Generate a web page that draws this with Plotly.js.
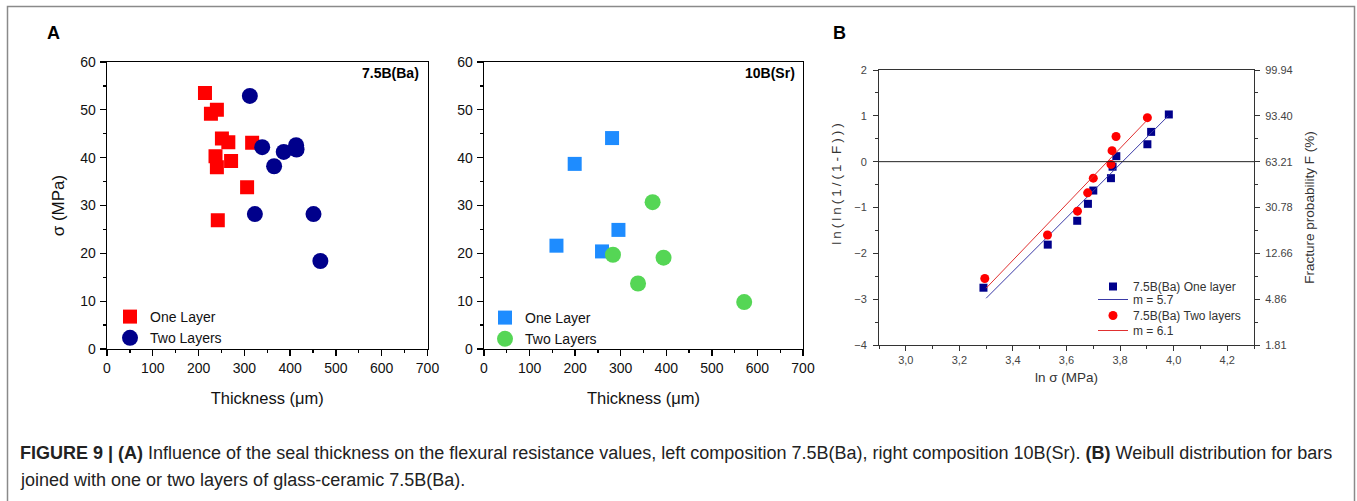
<!DOCTYPE html>
<html>
<head>
<meta charset="utf-8">
<script src="https://cdn.plot.ly/plotly-3.0.1.min.js"></script>
<style>
  html, body { margin: 0; padding: 0; background: #ffffff; }
  #chart { width: 1357px; height: 501px; }
</style>
</head>
<body>
<div id="chart"></div>
<script>
// ---------- Panel A (left): 7.5B(Ba) ----------
const baOneThickness = [214, 227, 240, 251, 265, 271, 237, 240, 317, 306, 242];
const baOneSigma     = [53.5, 49.2, 50.0, 44.0, 43.2, 39.3, 40.3, 38.0, 43.1, 33.8, 26.9];
const baTwoThickness = [312, 339, 365, 386, 413, 414, 323, 451, 466];
const baTwoSigma     = [52.9, 42.2, 38.2, 41.2, 42.6, 41.7, 28.2, 28.2, 18.4];

// ---------- Panel A (right): 10B(Sr) ----------
const srOneThickness = [159, 199, 281, 259, 295];
const srOneSigma     = [21.6, 38.7, 44.1, 20.4, 24.9];
const srTwoThickness = [283, 370, 394, 338, 571];
const srTwoSigma     = [19.7, 30.7, 19.1, 13.7, 9.8];

// ---------- Panel B: Weibull ----------
const wOneLnSigma = [3.29, 3.53, 3.64, 3.68, 3.70, 3.766, 3.772, 3.786, 3.902, 3.916, 3.982];
const wOneLnLn    = [-2.75, -1.81, -1.29, -0.92, -0.63, -0.36, -0.11, 0.12, 0.38, 0.65, 1.03];
const wTwoLnSigma = [3.295, 3.529, 3.641, 3.679, 3.70, 3.766, 3.77, 3.785, 3.902];
const wTwoLnLn    = [-2.55, -1.60, -1.08, -0.68, -0.36, -0.06, 0.24, 0.55, 0.96];
const fitOneX = [3.30, 3.98];
const fitOneY = [-2.98, 1.00];
const fitTwoX = [3.30, 3.90];
const fitTwoY = [-2.76, 0.90];

const weibullTicks = [-4, -3, -2, -1, 0, 1, 2];
const probTickText = ['1.81', '4.86', '12.66', '30.78', '63.21', '93.40', '99.94'];
const lnSigmaTicks = [3.0, 3.2, 3.4, 3.6, 3.8, 4.0, 4.2];

const W = 1357, H = 501;
const px = v => v / W;
const py = v => 1 - v / H;

const FONT = 'Liberation Sans, Arial, sans-serif';

const traces = [
  {x: baOneThickness, y: baOneSigma, xaxis: 'x', yaxis: 'y', mode: 'markers', type: 'scatter',
   name: 'One Layer', legend: 'legend',
   marker: {symbol: 'square', size: 14, color: '#ff0000'}},
  {x: baTwoThickness, y: baTwoSigma, xaxis: 'x', yaxis: 'y', mode: 'markers', type: 'scatter',
   name: 'Two Layers', legend: 'legend',
   marker: {symbol: 'circle', size: 16, color: '#00008b'}},
  {x: srOneThickness, y: srOneSigma, xaxis: 'x2', yaxis: 'y2', mode: 'markers', type: 'scatter',
   name: 'One Layer', legend: 'legend2',
   marker: {symbol: 'square', size: 14, color: '#1e8cff'}},
  {x: srTwoThickness, y: srTwoSigma, xaxis: 'x2', yaxis: 'y2', mode: 'markers', type: 'scatter',
   name: 'Two Layers', legend: 'legend2',
   marker: {symbol: 'circle', size: 16, color: '#55d655'}},
  {x: wOneLnSigma, y: wOneLnLn, xaxis: 'x3', yaxis: 'y3', mode: 'markers', type: 'scatter',
   name: '7.5B(Ba) One layer', legend: 'legend3',
   marker: {symbol: 'square', size: 8, color: '#00008b'}},
  {x: fitOneX, y: fitOneY, xaxis: 'x3', yaxis: 'y3', mode: 'lines', type: 'scatter',
   name: 'm = 5.7', legend: 'legend4',
   line: {color: '#3a3aa6', width: 1}},
  {x: wTwoLnSigma, y: wTwoLnLn, xaxis: 'x3', yaxis: 'y3', mode: 'markers', type: 'scatter',
   name: '7.5B(Ba) Two layers', legend: 'legend5',
   marker: {symbol: 'circle', size: 9, color: '#ff0000'}},
  {x: fitTwoX, y: fitTwoY, xaxis: 'x3', yaxis: 'y3', mode: 'lines', type: 'scatter',
   name: 'm = 6.1', legend: 'legend6',
   line: {color: '#e03030', width: 1}},
  // invisible trace to activate right-hand probability axis
  {x: [2.9], y: [0], xaxis: 'x3', yaxis: 'y4', mode: 'markers', type: 'scatter',
   showlegend: false, hoverinfo: 'skip', marker: {opacity: 0}}
];

const axisA = {
  showgrid: false, zeroline: false, showline: true, linecolor: '#000', linewidth: 1.3,
  mirror: true, ticks: 'outside', ticklen: 6, tickwidth: 1.3, tickcolor: '#000',
  tickfont: {family: FONT, size: 14, color: '#111'}
};

const axisB = {
  showgrid: false, zeroline: false, showline: true, linecolor: '#333', linewidth: 1,
  ticks: 'outside', ticklen: 5, tickwidth: 1, tickcolor: '#333',
  tickfont: {family: FONT, size: 11, color: '#444'}
};

const legendBase = {
  xanchor: 'left', yanchor: 'top', bgcolor: 'rgba(0,0,0,0)', borderwidth: 0, tracegroupgap: 0,
  itemsizing: 'trace'
};
const legendA = Object.assign({}, legendBase, {font: {family: FONT, size: 14, color: '#111'}});
const legendB = Object.assign({}, legendBase, {font: {family: FONT, size: 12, color: '#333'}});

const layout = {
  width: W, height: H,
  margin: {l: 0, r: 0, t: 0, b: 0},
  paper_bgcolor: '#ffffff', plot_bgcolor: 'rgba(0,0,0,0)',
  separators: ', ',
  showlegend: true,
  font: {family: FONT, color: '#111'},
  xaxis: Object.assign({}, axisA, {
    domain: [px(107), px(427.5)], range: [0, 700], dtick: 100, anchor: 'y',
    minor: {dtick: 50, ticks: 'outside', ticklen: 3, tickcolor: '#000'},
    title: {text: 'Thickness (μm)', font: {family: FONT, size: 16.5, color: '#111'}, standoff: 17}
  }),
  yaxis: Object.assign({}, axisA, {
    domain: [py(349), py(62)], range: [0, 60], dtick: 10, anchor: 'x', ticklabelstandoff: 1,
    minor: {dtick: 5, ticks: 'outside', ticklen: 3, tickcolor: '#000'},
    title: {text: 'σ (MPa)', font: {family: FONT, size: 17, color: '#111'}, standoff: 11}
  }),
  xaxis2: Object.assign({}, axisA, {
    domain: [px(484), px(803)], range: [0, 700], dtick: 100, anchor: 'y2',
    minor: {dtick: 50, ticks: 'outside', ticklen: 3, tickcolor: '#000'},
    title: {text: 'Thickness (μm)', font: {family: FONT, size: 16.5, color: '#111'}, standoff: 17}
  }),
  yaxis2: Object.assign({}, axisA, {
    domain: [py(349), py(62)], range: [0, 60], dtick: 10, anchor: 'x2', ticklabelstandoff: 1,
    minor: {dtick: 5, ticks: 'outside', ticklen: 3, tickcolor: '#000'}
  }),
  xaxis3: Object.assign({}, axisB, {
    domain: [px(879), px(1254)], range: [2.9, 4.3], tickvals: lnSigmaTicks, tickformat: '.1f',
    anchor: 'y3', mirror: true,
    minor: {dtick: 0.1, tick0: 2.9, ticks: 'outside', ticklen: 3, tickcolor: '#333'},
    title: {text: 'ln σ (MPa)', font: {family: FONT, size: 13.5, color: '#333'}, standoff: 7}
  }),
  yaxis3: Object.assign({}, axisB, {
    domain: [py(345), py(70)], range: [-4, 2], dtick: 1, anchor: 'x3', ticklabelstandoff: 4,
    minor: {dtick: 0.5, ticks: 'outside', ticklen: 3, tickcolor: '#333'},
    title: {text: 'ln(ln(1/(1-F)))', font: {family: FONT, size: 13.5, color: '#333'}, standoff: 9}
  }),
  yaxis4: Object.assign({}, axisB, {
    overlaying: 'y3', side: 'right', anchor: 'x3', range: [-4, 2], ticklabelstandoff: 3,
    tickvals: weibullTicks, ticktext: probTickText,
    minor: {dtick: 0.5, ticks: 'outside', ticklen: 3, tickcolor: '#333'},
    title: {text: 'Fracture probability F (%)', font: {family: FONT, size: 13.5, color: '#333'}, standoff: 12}
  }),
  legend:  Object.assign({}, legendA, {x: px(110), y: py(301)}),
  legend2: Object.assign({}, legendA, {x: px(485), y: py(302)}),
  legend3: Object.assign({}, legendB, {x: px(1093), y: py(272)}),
  legend4: Object.assign({}, legendB, {x: px(1093), y: py(285)}),
  legend5: Object.assign({}, legendB, {x: px(1093), y: py(301)}),
  legend6: Object.assign({}, legendB, {x: px(1093), y: py(316)}),
  shapes: [
    {type: 'rect', xref: 'paper', yref: 'paper', x0: px(7.5), x1: px(1354.5), y0: -0.05, y1: py(6.5),
     line: {color: '#8a8a8a', width: 1.5}, fillcolor: 'rgba(0,0,0,0)'},
    {type: 'line', xref: 'x3 domain', yref: 'y3', x0: 0, x1: 1, y0: 0, y1: 0,
     line: {color: '#222', width: 1}}
  ],
  annotations: [
    {text: '<b>A</b>', xref: 'paper', yref: 'paper', x: px(45), y: py(33), xanchor: 'left', yanchor: 'middle',
     showarrow: false, font: {family: FONT, size: 18, color: '#000'}},
    {text: '<b>B</b>', xref: 'paper', yref: 'paper', x: px(831), y: py(33), xanchor: 'left', yanchor: 'middle',
     showarrow: false, font: {family: FONT, size: 18, color: '#000'}},
    {text: '<b>7.5B(Ba)</b>', xref: 'paper', yref: 'paper', x: px(421), y: py(73), xanchor: 'right', yanchor: 'middle',
     showarrow: false, font: {family: FONT, size: 14, color: '#000'}},
    {text: '<b>10B(Sr)</b>', xref: 'paper', yref: 'paper', x: px(797), y: py(73), xanchor: 'right', yanchor: 'middle',
     showarrow: false, font: {family: FONT, size: 14, color: '#000'}},
    {text: '<b>FIGURE 9 | (A)</b> Influence of the seal thickness on the flexural resistance values, left composition 7.5B(Ba), right composition 10B(Sr). <b>(B)</b> Weibull distribution for bars',
     xref: 'paper', yref: 'paper', x: px(18), y: py(453), xanchor: 'left', yanchor: 'middle',
     showarrow: false, font: {family: FONT, size: 18, color: '#222'}},
    {text: 'joined with one or two layers of glass-ceramic 7.5B(Ba).',
     xref: 'paper', yref: 'paper', x: px(18), y: py(480), xanchor: 'left', yanchor: 'middle',
     showarrow: false, font: {family: FONT, size: 18, color: '#222'}}
  ]
};

Plotly.newPlot('chart', traces, layout, {displayModeBar: false, staticPlot: true}).then(gd => {
  // the reference draws the Weibull y-title with widely spaced characters, placed above the axis centre
  const t = gd.querySelector('.g-y3title text');
  if (t) {
    t.setAttribute('letter-spacing', '3px');
    const tr = t.getAttribute('transform') || '';
    t.setAttribute('transform', tr + ' translate(25,0)');
  }
});
</script>
</body>
</html>
